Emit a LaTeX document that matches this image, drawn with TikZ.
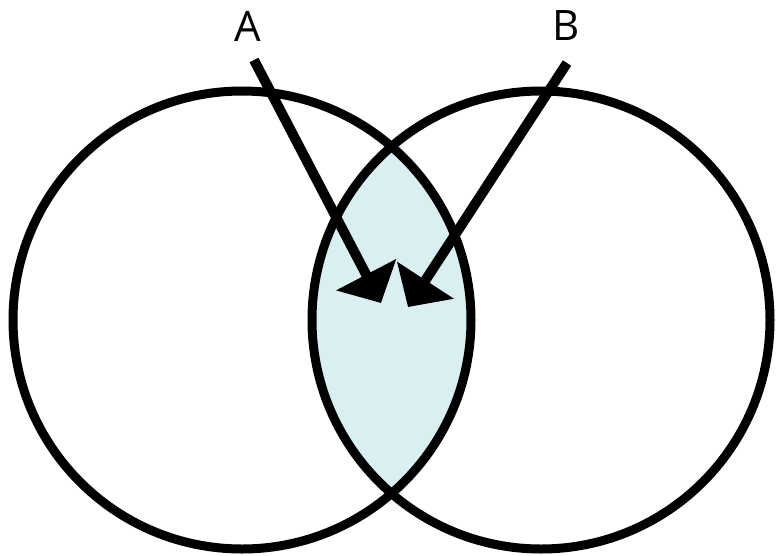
\documentclass[tikz,border=0pt]{standalone}
\usepackage{fontspec}
\setmainfont{Open Sans}
\usetikzlibrary{arrows.meta}
\definecolor{lenscol}{HTML}{D9EFF1}
\begin{document}
\begin{tikzpicture}[x=1pt,y=-1pt,
  ring/.style={circle,draw=black,line width=9pt,minimum size=458pt,inner sep=0pt,outer sep=0pt},
  pointer/.style={line width=10pt,-{Triangle[width=66pt,length=32pt]}},
  lbl/.style={font=\fontsize{42}{42}\selectfont,inner sep=0pt}]
\useasboundingbox (0,0) rectangle (776,555);
\fill[white] (0,0) rectangle (776,555);
\begin{scope}
  \clip (242,320) circle[radius=229pt];
  \fill[lenscol] (541,320) circle[radius=229pt];
\end{scope}
\node[ring] (L) at (242,320) {};
\node[ring] (R) at (541,320) {};
\node[lbl] (A) at (248,26) {A};
\node[lbl] (B) at (566,26) {B};
\coordinate (a0) at (254,60);
\coordinate (a1) at (381,303);
\coordinate (b0) at (567,63);
\coordinate (b1) at (408,307);
\draw[pointer] (a0) -- (a1);
\draw[pointer] (b0) -- (b1);
\end{tikzpicture}
\end{document}
